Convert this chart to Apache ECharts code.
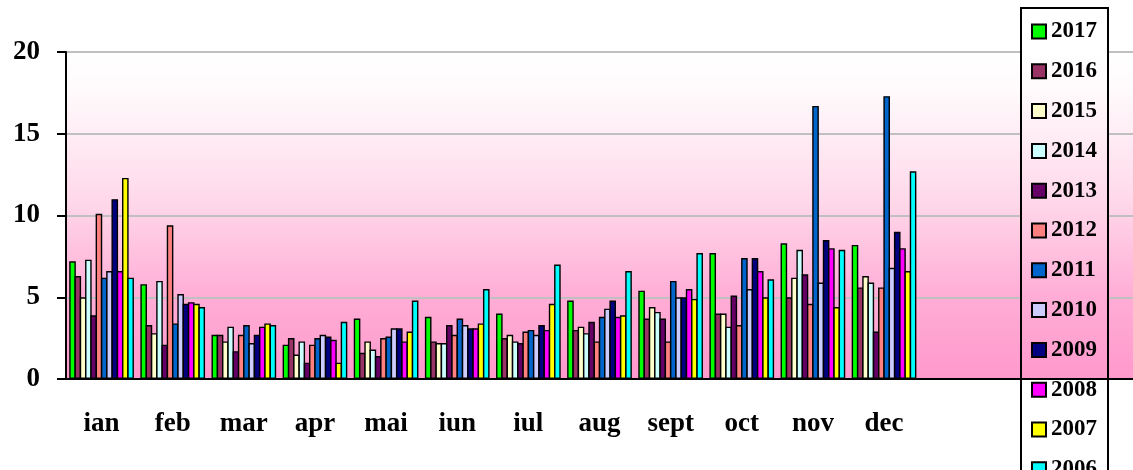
<!DOCTYPE html>
<html>
<head>
<meta charset="utf-8">
<script src="https://cdn.jsdelivr.net/npm/echarts@6/dist/echarts.min.js"></script>
<style>
html, body { margin: 0; padding: 0; background: #fff; }
#main { width: 1133px; height: 470px; }
</style>
</head>
<body>
<div id="main"></div>
<script>
// luni + categorii goale la dreapta (ca in original)
var months = ['ian', 'feb', 'mar', 'apr', 'mai', 'iun', 'iul', 'aug', 'sept', 'oct', 'nov', 'dec', '', '', ''];
var years = ['2017', '2016', '2015', '2014', '2013', '2012', '2011', '2010', '2009', '2008', '2007', '2006'];
var colors = ['#00ff00', '#993366', '#ffffcc', '#ccffff', '#660066', '#ff8080',
	'#0066cc', '#ccccff', '#000080', '#ff00ff', '#ffff00', '#00ffff'];

var v2017 = [7.2, 5.8, 2.7, 2.1, 3.7, 3.8, 4.0, 4.8, 5.4, 7.7, 8.3, 8.2];
var v2016 = [6.3, 3.3, 2.7, 2.5, 1.6, 2.3, 2.5, 3.0, 3.7, 4.0, 5.0, 5.6];
var v2015 = [5.0, 2.8, 2.3, 1.5, 2.3, 2.2, 2.7, 3.2, 4.4, 4.0, 6.2, 6.3];
var v2014 = [7.3, 6.0, 3.2, 2.3, 1.8, 2.2, 2.3, 2.8, 4.1, 3.2, 7.9, 5.9];
var v2013 = [3.9, 2.1, 1.7, 1.0, 1.4, 3.3, 2.2, 3.5, 3.7, 5.1, 6.4, 2.9];
var v2012 = [10.1, 9.4, 2.7, 2.1, 2.5, 2.7, 2.9, 2.3, 2.3, 3.3, 4.6, 5.6];
var v2011 = [6.2, 3.4, 3.3, 2.5, 2.6, 3.7, 3.0, 3.8, 6.0, 7.4, 16.7, 17.3];
var v2010 = [6.6, 5.2, 2.2, 2.7, 3.1, 3.3, 2.7, 4.3, 5.0, 5.5, 5.9, 6.8];
var v2009 = [11.0, 4.6, 2.7, 2.6, 3.1, 3.1, 3.3, 4.8, 5.0, 7.4, 8.5, 9.0];
var v2008 = [6.6, 4.7, 3.2, 2.4, 2.3, 3.1, 3.0, 3.8, 5.5, 6.6, 8.0, 8.0];
var v2007 = [12.3, 4.6, 3.4, 1.0, 2.9, 3.4, 4.6, 3.9, 4.9, 5.0, 4.4, 6.6];
var v2006 = [6.2, 4.4, 3.3, 3.5, 4.8, 5.5, 7.0, 6.6, 7.7, 6.1, 7.9, 12.7];

var values = [v2017, v2016, v2015, v2014, v2013, v2012, v2011, v2010, v2009, v2008, v2007, v2006];

var serif = '"Liberation Serif", "DejaVu Serif", serif';

function plotGradient() {
	return new echarts.graphic.LinearGradient(0, 0, 0, 1, [
		{ offset: 0, color: '#ffffff' },
		{ offset: 0.12, color: '#fffafc' },
		{ offset: 0.45, color: '#ffd9ea' },
		{ offset: 0.75, color: '#ffadd6' },
		{ offset: 1, color: '#ff99cc' }
	]);
}

var series = [];
for (var i = 0; i < years.length; i++) {
	series.push({
		name: years[i],
		type: 'bar',
		data: values[i],
		barWidth: 6.6,
		barGap: '-20%',
		itemStyle: {
			color: colors[i],
			borderColor: '#000',
			borderWidth: 1.4
		}
	});
}

var myChart = echarts.init(document.getElementById('main'));
var option = {
	animation: false,
	// fundalul legendei acopera liniile de grila, ca in original
	graphic: [{
		type: 'rect',
		z: 1,
		shape: { x: 1021, y: 51, width: 86, height: 327 },
		style: { fill: plotGradient() }
	}],
	grid: {
		left: 66,
		right: -4,
		top: 52,
		bottom: 91,
		show: true,
		borderWidth: 0,
		backgroundColor: plotGradient()
	},
	legend: {
		orient: 'vertical',
		left: 1021,
		top: 8,
		height: 600,
		padding: [12, 11, 14, 10],
		itemWidth: 14,
		itemHeight: 14,
		itemGap: 16.8,
		borderColor: '#000',
		borderWidth: 2,
		icon: 'rect',
		textStyle: {
			fontFamily: serif,
			fontWeight: 'bold',
			fontSize: 23,
			color: '#000'
		},
		data: years
	},
	xAxis: {
		type: 'category',
		data: months,
		axisLine: { lineStyle: { color: '#000', width: 2 } },
		axisTick: { length: 8, lineStyle: { color: '#000', width: 2 } },
		axisLabel: {
			margin: 32,
			fontFamily: serif,
			fontWeight: 'bold',
			fontSize: 27,
			color: '#000'
		}
	},
	yAxis: {
		type: 'value',
		min: 0,
		max: 20,
		interval: 5,
		axisLine: { show: true, lineStyle: { color: '#000', width: 2 } },
		axisTick: { show: true, length: 9, lineStyle: { color: '#000', width: 2 } },
		splitLine: { lineStyle: { color: '#c0c0c0', width: 2 } },
		axisLabel: {
			margin: 26,
			fontFamily: serif,
			fontWeight: 'bold',
			fontSize: 27,
			color: '#000'
		}
	},
	series: series
};
myChart.setOption(option);
</script>
</body>
</html>
